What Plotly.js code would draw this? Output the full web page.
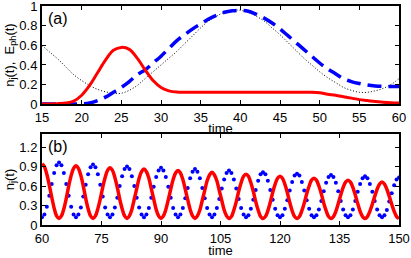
<!DOCTYPE html>
<html>
<head>
<meta charset="utf-8">
<script src="https://cdn.plot.ly/plotly-3.0.1.min.js"></script>
<style>html,body{margin:0;padding:0;background:#fff;}#chart{width:411px;height:258px;}</style>
</head>
<body>
<div id="chart"></div>
<script>
// Panel (a) data
var timeA = [15,16,17,18,19,20,21,22,23,24,25,26,27,28,29,30,31,32,33,34,35,36,37,38,39,40,41,42,43,44,45,46,47,48,49,50,51,52,53,54,55,56,57,58,59,60];
var occupationA = [0.00,0.00,0.004,0.01,0.03,0.09,0.19,0.32,0.45,0.55,0.58,0.56,0.47,0.35,0.24,0.17,0.135,0.122,0.12,0.12,0.12,0.12,0.12,0.12,0.12,0.12,0.12,0.12,0.12,0.12,0.12,0.12,0.12,0.12,0.12,0.115,0.10,0.09,0.075,0.06,0.045,0.035,0.025,0.018,0.013,0.01];
var photonA = [0,0,0,0,0,0,0.01,0.035,0.07,0.12,0.17,0.23,0.30,0.35,0.42,0.49,0.57,0.65,0.71,0.77,0.82,0.87,0.91,0.94,0.955,0.96,0.95,0.92,0.88,0.83,0.77,0.70,0.63,0.56,0.49,0.42,0.36,0.31,0.26,0.23,0.21,0.195,0.185,0.18,0.18,0.18];
var referenceA = [0.60,0.53,0.46,0.38,0.30,0.24,0.19,0.15,0.125,0.11,0.11,0.14,0.19,0.26,0.33,0.40,0.47,0.54,0.62,0.70,0.78,0.85,0.90,0.94,0.96,0.96,0.94,0.90,0.85,0.78,0.71,0.63,0.55,0.47,0.40,0.33,0.27,0.22,0.17,0.14,0.12,0.12,0.135,0.16,0.20,0.26];

// Panel (b) data
var timeB = [
60.00,60.61,61.22,61.84,62.45,63.06,63.67,64.29,64.90,65.51,66.12,66.73,67.35,67.96,
68.57,69.18,69.80,70.41,71.02,71.63,72.24,72.86,73.47,74.08,74.69,75.31,75.92,76.53,
77.14,77.76,78.37,78.98,79.59,80.20,80.82,81.43,82.04,82.65,83.27,83.88,84.49,85.10,
85.71,86.33,86.94,87.55,88.16,88.78,89.39,90.00,90.61,91.22,91.84,92.45,93.06,93.67,
94.29,94.90,95.51,96.12,96.73,97.35,97.96,98.57,99.18,99.80,100.41,101.02,101.63,102.24,
102.86,103.47,104.08,104.69,105.31,105.92,106.53,107.14,107.76,108.37,108.98,109.59,110.20,110.82,
111.43,112.04,112.65,113.27,113.88,114.49,115.10,115.71,116.33,116.94,117.55,118.16,118.78,119.39,
120.00,120.61,121.22,121.84,122.45,123.06,123.67,124.29,124.90,125.51,126.12,126.73,127.35,127.96,
128.57,129.18,129.80,130.41,131.02,131.63,132.24,132.86,133.47,134.08,134.69,135.31,135.92,136.53,
137.14,137.76,138.37,138.98,139.59,140.20,140.82,141.43,142.04,142.65,143.27,143.88,144.49,145.10,
145.71,146.33,146.94,147.55,148.16,148.78,149.39,150.00];
var siteOne = [
0.94,0.90,0.78,0.61,0.43,0.26,0.14,0.10,0.14,0.25,0.41,0.60,0.76,0.87,
0.91,0.87,0.76,0.60,0.41,0.25,0.14,0.10,0.14,0.25,0.40,0.58,0.73,0.84,
0.88,0.84,0.73,0.58,0.40,0.25,0.14,0.10,0.14,0.24,0.40,0.56,0.72,0.82,
0.86,0.82,0.72,0.56,0.40,0.24,0.14,0.10,0.14,0.24,0.39,0.55,0.70,0.80,
0.84,0.80,0.70,0.55,0.39,0.24,0.14,0.10,0.14,0.23,0.38,0.53,0.68,0.77,
0.81,0.77,0.68,0.53,0.38,0.23,0.14,0.10,0.13,0.23,0.36,0.52,0.65,0.75,
0.78,0.75,0.65,0.52,0.36,0.23,0.13,0.10,0.13,0.22,0.35,0.50,0.63,0.72,
0.75,0.72,0.63,0.50,0.35,0.22,0.13,0.10,0.13,0.22,0.34,0.48,0.60,0.69,
0.72,0.69,0.60,0.48,0.34,0.22,0.13,0.10,0.13,0.21,0.33,0.46,0.58,0.66,
0.69,0.66,0.58,0.46,0.33,0.21,0.13,0.10,0.13,0.21,0.32,0.44,0.55,0.63,
0.66,0.63,0.55,0.44,0.32,0.21,0.13,0.10];
var siteTwo = [
0.12,0.16,0.28,0.45,0.63,0.80,0.92,0.96,0.92,0.80,0.63,0.45,0.28,0.16,
0.12,0.16,0.27,0.44,0.62,0.78,0.89,0.93,0.89,0.78,0.62,0.44,0.27,0.16,
0.12,0.16,0.27,0.42,0.60,0.75,0.86,0.90,0.86,0.75,0.60,0.42,0.27,0.16,
0.12,0.16,0.26,0.42,0.59,0.74,0.84,0.88,0.84,0.74,0.59,0.42,0.26,0.16,
0.12,0.16,0.26,0.41,0.57,0.72,0.82,0.86,0.82,0.72,0.57,0.41,0.26,0.16,
0.12,0.16,0.26,0.40,0.56,0.70,0.80,0.84,0.80,0.70,0.56,0.40,0.26,0.16,
0.12,0.15,0.25,0.39,0.54,0.68,0.78,0.81,0.78,0.68,0.54,0.39,0.25,0.15,
0.12,0.15,0.25,0.38,0.53,0.66,0.76,0.79,0.76,0.66,0.53,0.38,0.25,0.15,
0.12,0.15,0.24,0.37,0.52,0.65,0.74,0.77,0.74,0.65,0.52,0.37,0.24,0.15,
0.12,0.15,0.24,0.37,0.51,0.63,0.72,0.75,0.72,0.63,0.51,0.37,0.24,0.15,
0.12,0.15,0.23,0.36,0.49,0.61,0.70,0.73];

var ticksA = [15,20,25,30,35,40,45,50,55,60];
var ticksAy = [0,0.2,0.4,0.6,0.8,1];
var ticksAyText = ['0','0.2','0.4','0.6','0.8','1'];
var ticksB = [60,75,90,105,120,135,150];
var ticksBy = [0,0.3,0.6,0.9,1.2];
var ticksByText = ['0','0.3','0.6','0.9','1.2'];

var FONT = 'Liberation Sans, Arial, sans-serif';

var traces = [
  {x: timeA, y: referenceA, xaxis:'x', yaxis:'y', mode:'lines', line:{color:'#000', width:1, dash:'1px,2px', shape:'spline'}, hoverinfo:'skip'},
  {x: timeA, y: photonA, xaxis:'x', yaxis:'y', mode:'lines', line:{color:'#0000ff', width:3.5, dash:'14px,7px', shape:'spline'}, hoverinfo:'skip'},
  {x: timeA, y: occupationA, xaxis:'x', yaxis:'y', mode:'lines', line:{color:'#ff0000', width:3, shape:'spline'}, hoverinfo:'skip'},
  {x: timeB, y: siteTwo, xaxis:'x2', yaxis:'y2', mode:'markers', marker:{color:'#0000ff', size:4}, hoverinfo:'skip'},
  {x: timeB, y: siteOne, xaxis:'x2', yaxis:'y2', mode:'lines', line:{color:'#ff0000', width:3.5, shape:'spline'}, hoverinfo:'skip'}
];

function axisBase() {
  return {
    showline:true, linecolor:'#000', linewidth:2, mirror:'ticks',
    ticks:'inside', ticklen:4, tickwidth:1, tickcolor:'#000',
    showgrid:false, zeroline:false, ticklabeloverflow:'allow',
    tickfont:{family:FONT, size:13, color:'#000'}
  };
}

var xa = Object.assign(axisBase(), {domain:[0,1], range:[15,60], tickvals:ticksA, anchor:'y',
  title:{text:'time', font:{family:FONT, size:13, color:'#000'}, standoff:0}});
var ya = Object.assign(axisBase(), {domain:[0.55,0.995], range:[0,1.003], tickvals:ticksAy, ticktext:ticksAyText, anchor:'x',
  title:{text:'n<sub>j</sub>(t),  E<sub>ph</sub>(t)', font:{family:FONT, size:13, color:'#000'}, standoff:2}});
var xb = Object.assign(axisBase(), {domain:[0,1], range:[60,150], tickvals:ticksB, anchor:'y2',
  title:{text:'time', font:{family:FONT, size:13, color:'#000'}, standoff:0}});
var yb = Object.assign(axisBase(), {domain:[0,0.4136], range:[0,1.4], tickvals:ticksBy, ticktext:ticksByText, anchor:'x2',
  title:{text:'n<sub>j</sub>(t)', font:{family:FONT, size:13, color:'#000'}, standoff:2}});

var layout = {
  width:411, height:258,
  margin:{l:42, r:12, t:5, b:33},
  paper_bgcolor:'#fff', plot_bgcolor:'#fff',
  showlegend:false,
  font:{family:FONT, color:'#000'},
  xaxis:xa, yaxis:ya, xaxis2:xb, yaxis2:yb,
  annotations:[
    {text:'(a)', xref:'paper', yref:'paper', x:0.012, y:0.985, xanchor:'left', yanchor:'top', showarrow:false, font:{family:FONT, size:16, color:'#000'}},
    {text:'(b)', xref:'paper', yref:'paper', x:0.012, y:0.405, xanchor:'left', yanchor:'top', showarrow:false, font:{family:FONT, size:16, color:'#000'}}
  ]
};

Plotly.newPlot('chart', traces, layout, {staticPlot:true, displayModeBar:false});
</script>
</body>
</html>
